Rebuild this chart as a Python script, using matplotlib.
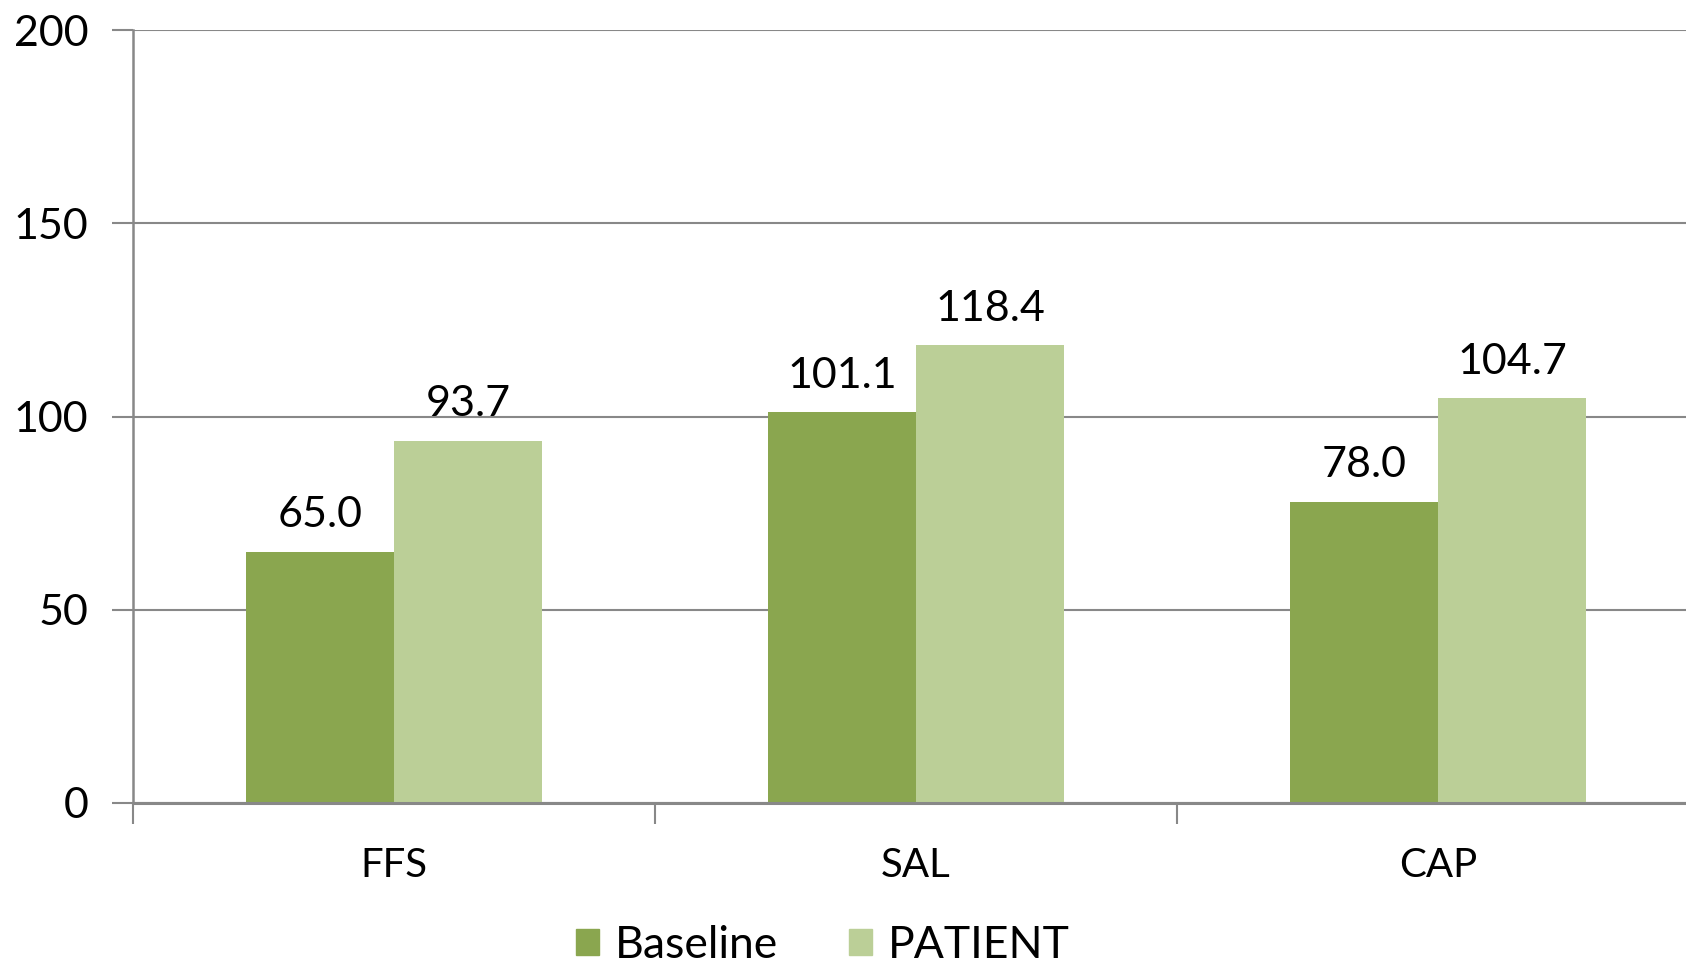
import matplotlib
matplotlib.use("Agg")
import matplotlib.pyplot as plt
import numpy as np
from matplotlib.patches import Patch

categories = ["FFS", "SAL", "CAP"]
baseline = [65.0, 101.1, 78.0]
patient = [93.7, 118.4, 104.7]
series_names = ["Baseline", "PATIENT"]
y_ticks = [0, 50, 100, 150, 200]

c_base = "#8AA64F"
c_pat = "#BBCF97"
grid_c = "#888888"

plt.rcParams["font.family"] = ["Lato", "DejaVu Sans"]

W, H = 1686, 967
fig = plt.figure(figsize=(W / 100, H / 100), dpi=100)
left, right = 133 / W, 1699 / W
bottom, top = 1 - 803 / H, 1 - 30 / H
ax = fig.add_axes([left, bottom, right - left, top - bottom])

x = np.arange(len(categories)) + 0.5
bw = 0.284
ax.bar(x - bw / 2, baseline, bw, color=c_base, zorder=3)
ax.bar(x + bw / 2, patient, bw, color=c_pat, zorder=3)

for xi, v in zip(x - bw / 2, baseline):
    ax.text(xi, v + 4.5, f"{v:.1f}", ha="center", va="bottom", fontsize=31)
for xi, v in zip(x + bw / 2, patient):
    ax.text(xi, v + 4.5, f"{v:.1f}", ha="center", va="bottom", fontsize=31)

ax.set_xlim(0, 3)
ax.set_ylim(0, 200)
ax.set_yticks(y_ticks)
ax.set_yticklabels([str(t) for t in y_ticks], fontsize=31)
ax.set_xticks([0, 1, 2, 3])
ax.set_xticklabels([])
ax.set_xticks(x, minor=True)
ax.set_xticklabels(categories, minor=True, fontsize=29)
ax.tick_params(axis="x", which="minor", length=0, pad=32)
ax.tick_params(axis="x", which="major", length=15, width=1.5, color=grid_c)
ax.tick_params(axis="y", length=15, width=1.5, color=grid_c, pad=17)

ax.yaxis.grid(True, color=grid_c, linewidth=1.5, zorder=0)
ax.set_axisbelow(True)
for s in ["top", "right"]:
    ax.spines[s].set_visible(False)
ax.spines["left"].set_color(grid_c)
ax.spines["left"].set_linewidth(1.8)
ax.spines["bottom"].set_color(grid_c)
ax.spines["bottom"].set_linewidth(2.2)
ax.spines["bottom"].set_zorder(4)

handles = [Patch(color=c_base), Patch(color=c_pat)]
fig.legend(handles, series_names, loc="center", bbox_to_anchor=(0.488, 1 - 945 / H),
           ncol=2, frameon=False, fontsize=32, handlelength=0.52, handleheight=0.52,
           handletextpad=0.35, columnspacing=1.6)

fig.savefig("out.png", dpi=100)
